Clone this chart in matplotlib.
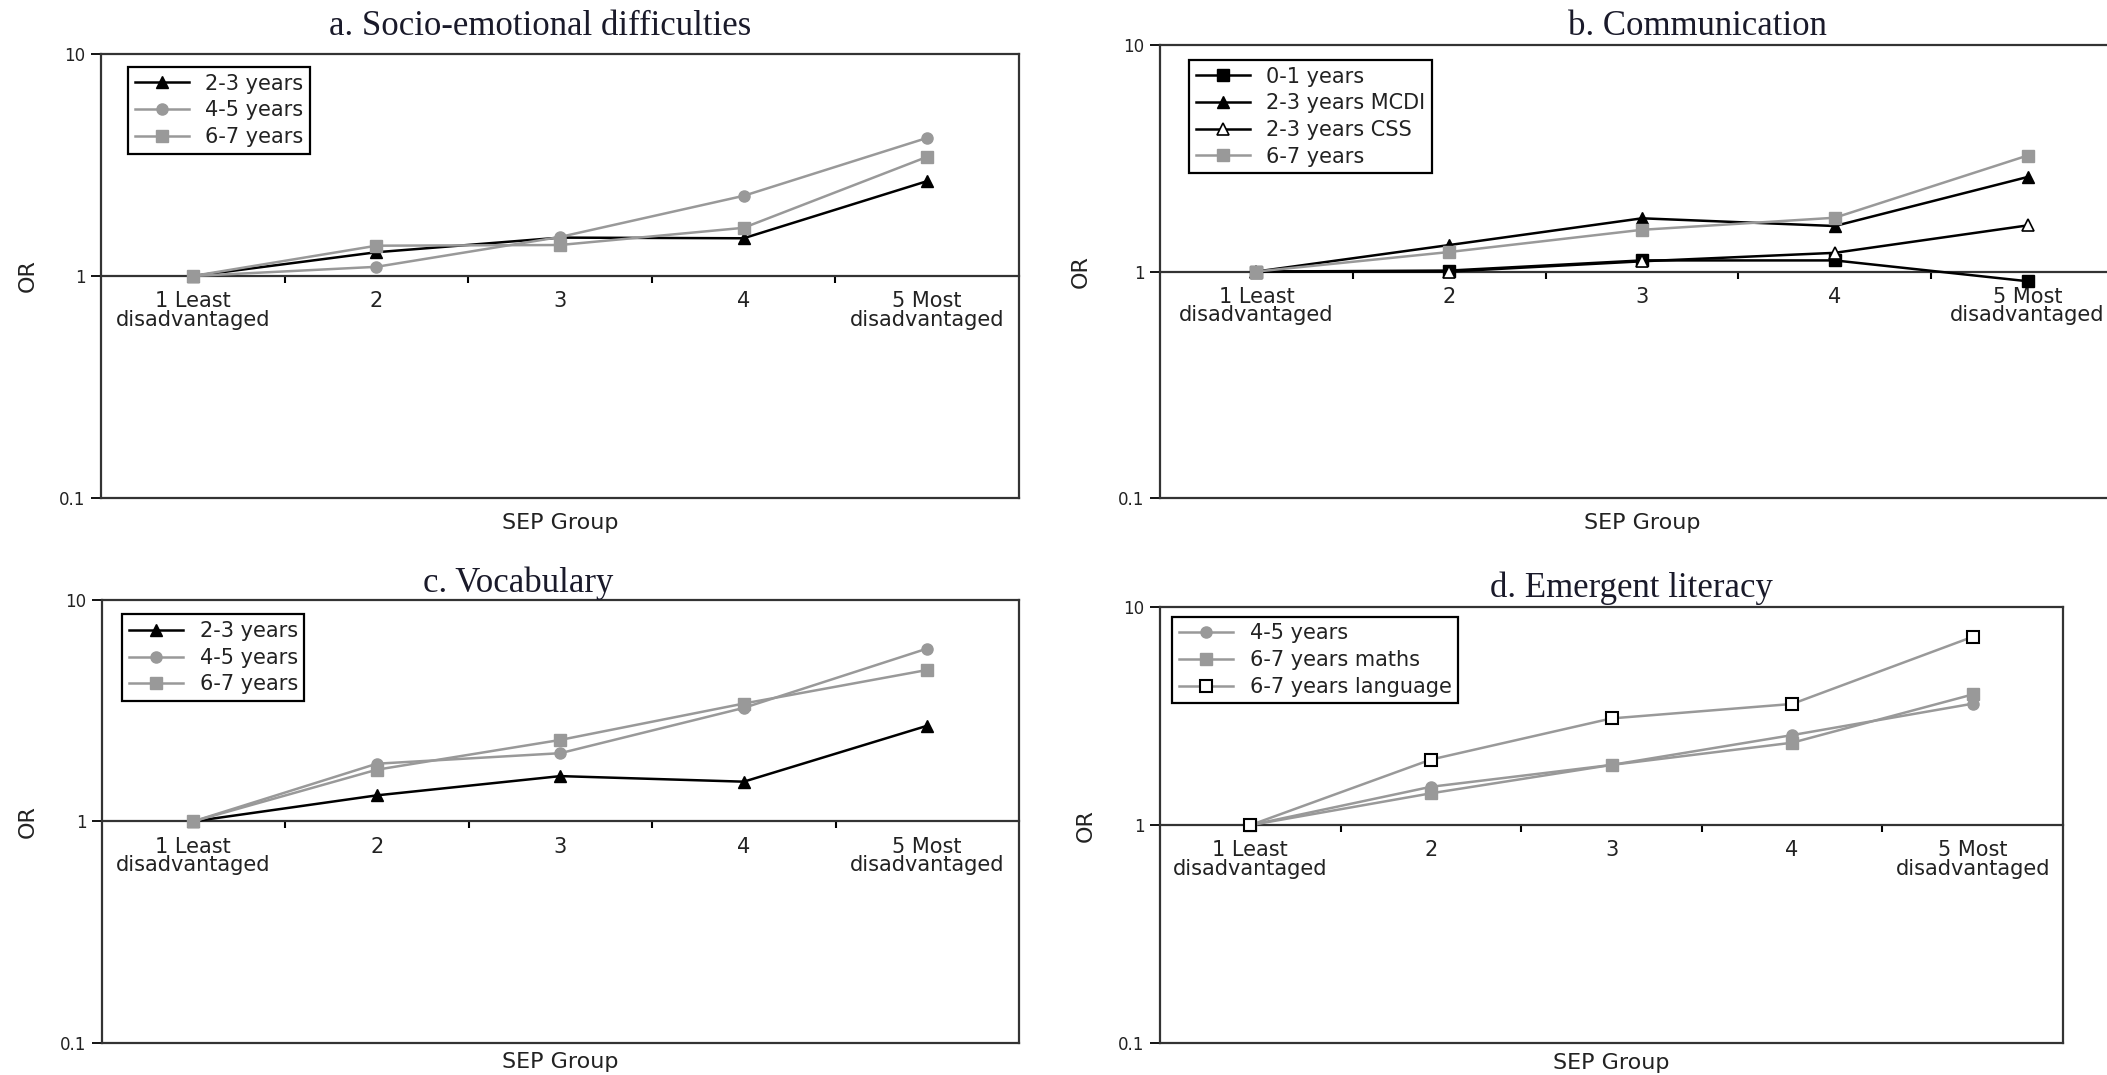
import matplotlib
matplotlib.use('Agg')
import matplotlib.pyplot as plt
from matplotlib.ticker import FixedLocator, NullLocator

# SEP groups (category axis)
categories = ['1 Least\ndisadvantaged', '2', '3', '4', '5 Most\ndisadvantaged']

# a. Socio-emotional difficulties
a_23 = [1.0, 1.28, 1.49, 1.48, 2.68]
a_45 = [1.0, 1.10, 1.50, 2.30, 4.20]
a_67 = [1.0, 1.37, 1.38, 1.65, 3.45]

# b. Communication
b_01 = [1.0, 1.01, 1.12, 1.12, 0.906]
b_23_mcdi = [1.0, 1.31, 1.72, 1.59, 2.62]
b_23_css = [1.0, 1.0, 1.11, 1.21, 1.60]
b_67 = [1.0, 1.22, 1.53, 1.73, 3.26]

# c. Vocabulary
c_23 = [1.0, 1.31, 1.60, 1.51, 2.70]
c_45 = [1.0, 1.82, 2.03, 3.25, 6.02]
c_67 = [1.0, 1.71, 2.33, 3.40, 4.82]

# d. Emergent literacy
d_45 = [1.0, 1.50, 1.89, 2.59, 3.61]
d_67_maths = [1.0, 1.40, 1.89, 2.39, 3.98]
d_67_lang = [1.0, 2.00, 3.09, 3.60, 7.32]

plt.rcParams['font.family'] = ['DejaVu Sans']

GRAY = '#999999'
INK = '#222222'

black_tri = dict(color='black', marker='^', mfc='black', mec='black', ms=9)
black_sq = dict(color='black', marker='s', mfc='black', mec='black', ms=8)
open_tri = dict(color='black', marker='^', mfc='white', mec='black', ms=9, mew=1.2)
gray_circ = dict(color=GRAY, marker='o', mfc=GRAY, mec=GRAY, ms=8)
gray_sq = dict(color=GRAY, marker='s', mfc=GRAY, mec=GRAY, ms=9)
open_sq = dict(color=GRAY, marker='s', mfc='white', mec='black', ms=8, mew=1.5)


def draw_panel(ax, title, series, title_xy, legend_xy, ylab_x, xlab_y):
    x = list(range(len(categories)))
    for label, values, style in series:
        ax.plot(x, values, label=label, lw=1.8, **style)

    ax.set_yscale('log')
    ax.set_ylim(0.1, 10)
    ax.set_xlim(-0.5, len(categories) - 0.5)
    ax.yaxis.set_major_locator(FixedLocator([0.1, 1, 10]))
    ax.yaxis.set_minor_locator(NullLocator())
    ax.set_yticklabels(['0.1', '1', '10'])
    ax.tick_params(axis='y', length=7, width=1.3, pad=4, labelsize=12,
                   labelcolor=INK)
    ax.tick_params(axis='x', which='both', bottom=False, labelbottom=False)
    for sp in ax.spines.values():
        sp.set_linewidth(1.6)
        sp.set_color('#333333')

    # category axis crosses at OR = 1
    sec = ax.secondary_xaxis(0.5)
    sec.set_alignment('bottom')
    sec.set_xticks(x, labels=categories)
    sec.xaxis.set_minor_locator(FixedLocator([i + 0.5 for i in x[:-1]]))
    sec.tick_params(which='major', length=0, pad=11, labelsize=15,
                    labelcolor=INK)
    sec.tick_params(which='minor', length=5, width=1.5, direction='out')
    sec.spines['bottom'].set_linewidth(1.6)
    sec.spines['bottom'].set_color('#333333')
    for t in sec.get_xticklabels():
        t.set_linespacing(0.9)

    ax.set_title(title, x=title_xy[0], y=title_xy[1], pad=0, va='center',
                 fontsize=25, family='Liberation Serif', color='#1a1a2a')
    ax.set_ylabel('OR', fontsize=16, color=INK, va='center')
    ax.yaxis.set_label_coords(ylab_x, 0.5)
    ax.set_xlabel('SEP Group', fontsize=16, color=INK, va='center')
    ax.xaxis.set_label_coords(0.5, xlab_y)

    leg = ax.legend(loc='upper left', bbox_to_anchor=legend_xy,
                    borderaxespad=0, fontsize=15, fancybox=False,
                    edgecolor='black', framealpha=1, handlelength=2.6,
                    handletextpad=0.8, labelspacing=0.32, borderpad=0.32)
    leg.get_frame().set_linewidth(1.6)
    for t in leg.get_texts():
        t.set_color(INK)


fig = plt.figure(figsize=(21.07, 10.75), dpi=100)
ax_a = fig.add_axes([0.04794, 0.53712, 0.43569, 0.41228])
ax_b = fig.add_axes([0.55055, 0.53712, 0.45752, 0.42056])
ax_c = fig.add_axes([0.04822, 0.02977, 0.43540, 0.41237])
ax_d = fig.add_axes([0.55055, 0.02977, 0.42857, 0.40530])

draw_panel(ax_a, 'a. Socio-emotional difficulties',
           [('2-3 years', a_23, black_tri),
            ('4-5 years', a_45, gray_circ),
            ('6-7 years', a_67, gray_sq)],
           (0.478, 1.062), (0.0294, 0.9716), -0.080, -0.0573)

draw_panel(ax_b, 'b. Communication',
           [('0-1 years', b_01, black_sq),
            ('2-3 years MCDI', b_23_mcdi, black_tri),
            ('2-3 years CSS', b_23_css, open_tri),
            ('6-7 years', b_67, dict(gray_sq, ms=8))],
           (0.558, 1.041), (0.030, 0.968), -0.082, -0.0562)

draw_panel(ax_c, 'c. Vocabulary',
           [('2-3 years', c_23, black_tri),
            ('4-5 years', c_45, gray_circ),
            ('6-7 years', c_67, dict(gray_sq, ms=8))],
           (0.454, 1.038), (0.0223, 0.9667), -0.0807, -0.0429)

draw_panel(ax_d, 'd. Emergent literacy',
           [('4-5 years', d_45, gray_circ),
            ('6-7 years maths', d_67_maths, dict(gray_sq, ms=8)),
            ('6-7 years language', d_67_lang, open_sq)],
           (0.5216, 1.044), (0.0133, 0.9782), -0.082, -0.0459)

fig.savefig('out.png', dpi=100)
plt.close(fig)
